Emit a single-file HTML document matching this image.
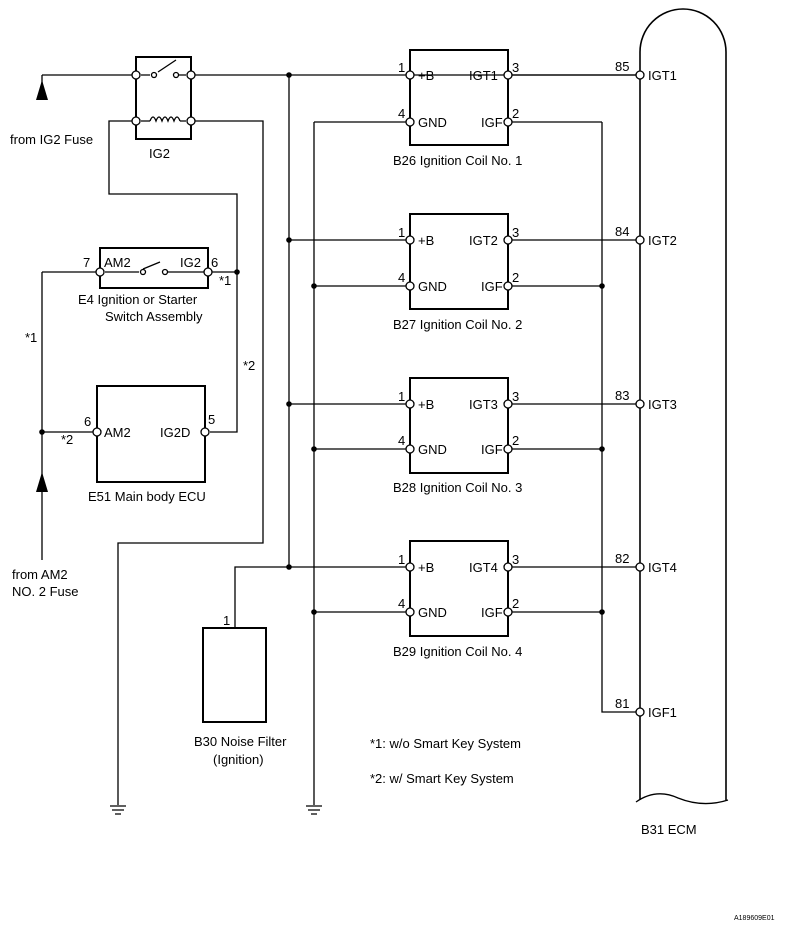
<!DOCTYPE html>
<html><head><meta charset="utf-8"><style>
body{margin:0;background:#fff}
svg{display:block}
text{font-family:"Liberation Sans",sans-serif;font-size:13px;fill:#000}
</style></head><body>
<svg width="788" height="928" viewBox="0 0 788 928" xmlns="http://www.w3.org/2000/svg">
<g stroke="#000" stroke-width="1.3" fill="none">
<rect x="136" y="57" width="55" height="82" stroke-width="2"/>
<path d="M42 75H136M42 100V75"/>
<path d="M141 75H150M158 72L176 60M173 75H186"/>
<path d="M141 121H150M180 121H186"/>
<path d="M150 121q3-8 6 0q3-8 6 0q3-8 6 0q3-8 6 0q3-8 6 0"/>
<path d="M191 75H640"/>
<path d="M136 121H109V194H237V432H210"/>
<path d="M191 121H263V543H118V805"/>
<rect x="100" y="248" width="108" height="40" stroke-width="2"/>
<path d="M105 272H139M143 269L160 262M168 272H204M208 272H237"/>
<path d="M42 272H96M42 272V560"/>
<rect x="97" y="386" width="108" height="96" stroke-width="2"/>
<path d="M42 432H93"/>
<path d="M289 75V567"/>
<path d="M235 628V567H289"/>
<rect x="203" y="628" width="63" height="94" stroke-width="2"/>
<path d="M314 122V805"/>
<path d="M602 122V712H636"/>
<path d="M110 806H126M112 810H124M115 814H121"/>
<path d="M306 806H322M308 810H320M311 814H317"/>
<path d="M640 800V52A43 43 0 0 1 726 52V800" stroke-width="1.6"/>
<path d="M636 802q20-14 42-4q25 10 50 2" stroke-width="1.3"/>
</g>
<g stroke="#000" stroke-width="1.3" fill="none">
<rect x="410" y="50" width="98" height="95" stroke-width="2"/>
<rect x="410" y="214" width="98" height="95" stroke-width="2"/>
<rect x="410" y="378" width="98" height="95" stroke-width="2"/>
<rect x="410" y="541" width="98" height="95" stroke-width="2"/>
<path d="M289 240H408M289 404H408M289 567H408"/>
<path d="M314 122H408M314 286H408M314 449H408M314 612H408"/>
<path d="M510 122H602M510 286H602M510 449H602M510 612H602"/>
<path d="M510 75H636M510 240H636M510 404H636M510 567H636"/>
</g>
<g fill="#fff" stroke="#000" stroke-width="1.3">
<circle cx="136" cy="75" r="4"/><circle cx="191" cy="75" r="4"/>
<circle cx="136" cy="121" r="4"/><circle cx="191" cy="121" r="4"/>
<circle cx="154" cy="75" r="2.5"/><circle cx="176" cy="75" r="2.5"/>
<circle cx="100" cy="272" r="4"/><circle cx="208" cy="272" r="4"/>
<circle cx="143" cy="272" r="2.5"/><circle cx="165" cy="272" r="2.5"/>
<circle cx="97" cy="432" r="4"/><circle cx="205" cy="432" r="4"/>
<circle cx="410" cy="75" r="4"/><circle cx="410" cy="122" r="4"/><circle cx="508" cy="75" r="4"/><circle cx="508" cy="122" r="4"/>
<circle cx="410" cy="240" r="4"/><circle cx="410" cy="286" r="4"/><circle cx="508" cy="240" r="4"/><circle cx="508" cy="286" r="4"/>
<circle cx="410" cy="404" r="4"/><circle cx="410" cy="449" r="4"/><circle cx="508" cy="404" r="4"/><circle cx="508" cy="449" r="4"/>
<circle cx="410" cy="567" r="4"/><circle cx="410" cy="612" r="4"/><circle cx="508" cy="567" r="4"/><circle cx="508" cy="612" r="4"/>
<circle cx="640" cy="75" r="4"/><circle cx="640" cy="240" r="4"/><circle cx="640" cy="404" r="4"/><circle cx="640" cy="567" r="4"/><circle cx="640" cy="712" r="4"/>
</g>
<g fill="#000">
<circle cx="289" cy="75" r="2.8"/><circle cx="289" cy="240" r="2.8"/><circle cx="289" cy="404" r="2.8"/><circle cx="289" cy="567" r="2.8"/>
<circle cx="314" cy="286" r="2.8"/><circle cx="314" cy="449" r="2.8"/><circle cx="314" cy="612" r="2.8"/>
<circle cx="602" cy="286" r="2.8"/><circle cx="602" cy="449" r="2.8"/><circle cx="602" cy="612" r="2.8"/>
<circle cx="237" cy="272" r="2.8"/><circle cx="42" cy="432" r="2.8"/>
<path d="M42 80L36 100H48Z"/><path d="M42 472L36 492H48Z"/>
</g>
<text x="10" y="144">from IG2 Fuse</text>
<text x="149" y="158">IG2</text>
<text x="83" y="267">7</text><text x="104" y="267">AM2</text><text x="180" y="267">IG2</text><text x="211" y="267">6</text>
<text x="219" y="285">*1</text>
<text x="78" y="304">E4  Ignition or Starter</text>
<text x="105" y="321">Switch Assembly</text>
<text x="25" y="342">*1</text>
<text x="243" y="370">*2</text>
<text x="84" y="426">6</text><text x="104" y="437">AM2</text><text x="160" y="437">IG2D</text><text x="208" y="424">5</text>
<text x="61" y="444">*2</text>
<text x="88" y="501">E51 Main body ECU</text>
<text x="12" y="579">from AM2</text><text x="12" y="596">NO. 2 Fuse</text>
<text x="223" y="625">1</text>
<text x="194" y="746">B30 Noise Filter</text><text x="213" y="764">(Ignition)</text>
<text x="370" y="748">*1: w/o Smart Key System</text>
<text x="370" y="783">*2: w/ Smart Key System</text>
<g>
<text x="398" y="72">1</text><text x="418" y="80">+B</text><text x="469" y="80">IGT1</text><text x="512" y="72">3</text>
<text x="398" y="118">4</text><text x="418" y="127">GND</text><text x="481" y="127">IGF</text><text x="512" y="118">2</text>
<text x="393" y="165">B26 Ignition Coil No. 1</text>
<text x="398" y="237">1</text><text x="418" y="245">+B</text><text x="469" y="245">IGT2</text><text x="512" y="237">3</text>
<text x="398" y="282">4</text><text x="418" y="291">GND</text><text x="481" y="291">IGF</text><text x="512" y="282">2</text>
<text x="393" y="329">B27 Ignition Coil No. 2</text>
<text x="398" y="401">1</text><text x="418" y="409">+B</text><text x="469" y="409">IGT3</text><text x="512" y="401">3</text>
<text x="398" y="445">4</text><text x="418" y="454">GND</text><text x="481" y="454">IGF</text><text x="512" y="445">2</text>
<text x="393" y="492">B28 Ignition Coil No. 3</text>
<text x="398" y="564">1</text><text x="418" y="572">+B</text><text x="469" y="572">IGT4</text><text x="512" y="564">3</text>
<text x="398" y="608">4</text><text x="418" y="617">GND</text><text x="481" y="617">IGF</text><text x="512" y="608">2</text>
<text x="393" y="656">B29 Ignition Coil No. 4</text>
</g>
<text x="615" y="71">85</text><text x="648" y="80">IGT1</text>
<text x="615" y="236">84</text><text x="648" y="245">IGT2</text>
<text x="615" y="400">83</text><text x="648" y="409">IGT3</text>
<text x="615" y="563">82</text><text x="648" y="572">IGT4</text>
<text x="615" y="708">81</text><text x="648" y="717">IGF1</text>
<text x="641" y="834">B31  ECM</text>
<text x="734" y="920" style="font-size:7px">A189609E01</text>
</svg>
</body></html>
